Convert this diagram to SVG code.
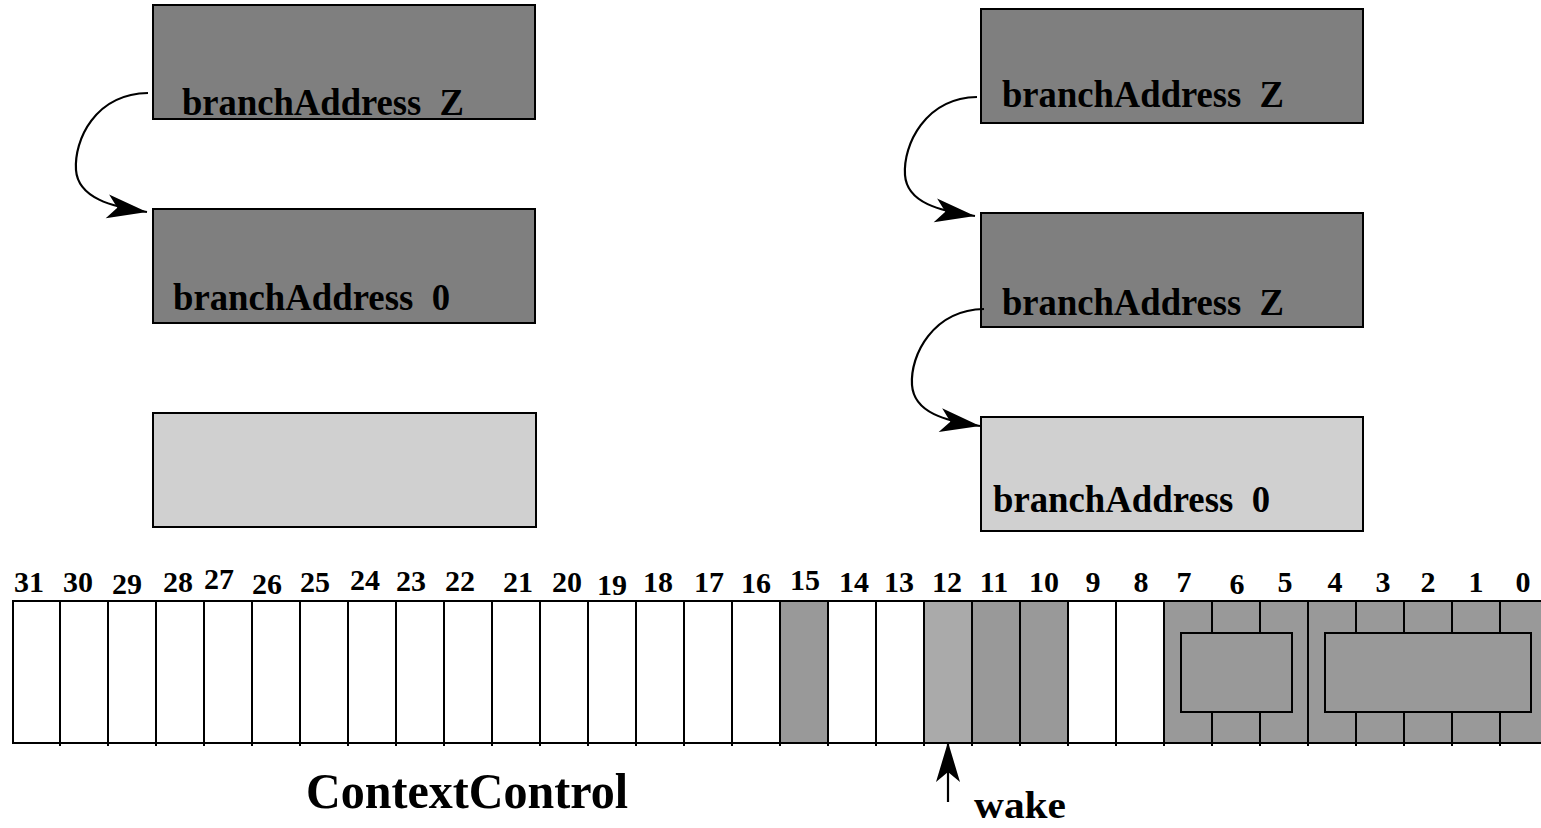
<svg xmlns="http://www.w3.org/2000/svg" width="1541" height="828" viewBox="0 0 1541 828">
  <style>
    .blk { stroke: #000; stroke-width: 2; }
    .dark { fill: #7f7f7f; }
    .light { fill: #d0d0d0; }
    .lbl { font-family: "Liberation Serif", "Times New Roman", serif; font-weight: bold; font-size: 38px; fill: #000; white-space: pre; }
    .bit { font-family: "Liberation Serif", "Times New Roman", serif; font-weight: bold; font-size: 30px; fill: #000; text-anchor: middle; }
    .reg { fill: #999999; }
    .regw { fill: #ffffff; }
    .wake { fill: #aaaaaa; }
    .cell { stroke: #000; stroke-width: 2; fill: none; }
    .conn { fill: none; stroke: #000; stroke-width: 2.2; marker-end: url(#head); }
    .title { font-family: "Liberation Serif", "Times New Roman", serif; font-weight: bold; fill: #000; }
  </style>
  <defs>
    <marker id="head" markerUnits="userSpaceOnUse" viewBox="-42 -14 44 28" markerWidth="44" markerHeight="28" refX="0" refY="0" orient="auto">
      <path d="M0,0 L-40,-12 L-30,0 L-40,12 Z" fill="#000"/>
    </marker>
  </defs>

  <rect width="1541" height="828" fill="#fff"/>

  <!-- left column: two-level branch -->
  <g id="left-z">
    <rect class="blk dark" x="153" y="5" width="382" height="114"/>
    <text class="lbl" x="182" y="115" textLength="282" lengthAdjust="spacingAndGlyphs">branchAddress  Z</text>
  </g>
  <g id="left-0">
    <rect class="blk dark" x="153" y="209" width="382" height="114"/>
    <text class="lbl" x="173" y="310" textLength="277" lengthAdjust="spacingAndGlyphs">branchAddress  0</text>
  </g>
  <g id="left-empty">
    <rect class="blk light" x="153" y="413" width="383" height="114"/>
  </g>

  <!-- right column: three-level branch -->
  <g id="right-z1">
    <rect class="blk dark" x="981" y="9" width="382" height="114"/>
    <text class="lbl" x="1002" y="107" textLength="282" lengthAdjust="spacingAndGlyphs">branchAddress  Z</text>
  </g>
  <g id="right-z2">
    <rect class="blk dark" x="981" y="213" width="382" height="114"/>
    <text class="lbl" x="1002" y="315" textLength="282" lengthAdjust="spacingAndGlyphs">branchAddress  Z</text>
  </g>
  <g id="right-0">
    <rect class="blk light" x="981" y="417" width="382" height="114"/>
    <text class="lbl" x="993" y="512" textLength="277" lengthAdjust="spacingAndGlyphs">branchAddress  0</text>
  </g>

  <!-- ContextControl register, 48px per bit -->
  <g id="register">
    <rect class="regw" x="12" y="601" width="768" height="142"/>
    <rect class="reg" x="780" y="601" width="48" height="142"/>
    <rect class="regw" x="828" y="601" width="96" height="142"/>
    <rect class="wake" x="924" y="601" width="48" height="142"/>
    <rect class="reg" x="972" y="601" width="96" height="142"/>
    <rect class="regw" x="1068" y="601" width="96" height="142"/>
    <rect class="reg" x="1164" y="601" width="384" height="142"/>
    <!-- outline -->
    <path class="cell" d="M12,601 H1548 M12,743 H1548 M13,601 V743"/>
    <!-- full-height bit dividers with ticks below -->
    <path class="cell" d="M60,601 V746 M108,601 V746 M156,601 V746 M204,601 V746 M252,601 V746 M300,601 V746 M348,601 V746 M396,601 V746 M444,601 V746 M492,601 V746 M540,601 V746 M588,601 V746 M636,601 V746 M684,601 V746 M732,601 V746 M780,601 V746 M828,601 V746 M876,601 V746 M924,601 V746 M972,601 V746 M1020,601 V746 M1068,601 V746 M1116,601 V746 M1164,601 V746 M1308,601 V746"/>
    <!-- dividers interrupted by the field boxes -->
    <path class="cell" d="M1212,601 V633 M1212,712 V746 M1260,601 V633 M1260,712 V746 M1356,601 V633 M1356,712 V746 M1404,601 V633 M1404,712 V746 M1452,601 V633 M1452,712 V746 M1500,601 V633 M1500,712 V746"/>
    <rect class="cell reg" x="1181" y="633" width="111" height="79"/>
    <rect class="cell reg" x="1325" y="633" width="206" height="79"/>
  </g>

  <g id="bit-numbers">
    <text class="bit" x="29" y="592">31</text>
    <text class="bit" x="78" y="592">30</text>
    <text class="bit" x="127" y="594">29</text>
    <text class="bit" x="178" y="592">28</text>
    <text class="bit" x="219" y="589">27</text>
    <text class="bit" x="267" y="594">26</text>
    <text class="bit" x="315" y="592">25</text>
    <text class="bit" x="365" y="590">24</text>
    <text class="bit" x="411" y="591">23</text>
    <text class="bit" x="460" y="591">22</text>
    <text class="bit" x="518" y="592">21</text>
    <text class="bit" x="567" y="592">20</text>
    <text class="bit" x="612" y="595">19</text>
    <text class="bit" x="658" y="592">18</text>
    <text class="bit" x="709" y="592">17</text>
    <text class="bit" x="756" y="593">16</text>
    <text class="bit" x="805" y="590">15</text>
    <text class="bit" x="854" y="592">14</text>
    <text class="bit" x="899" y="592">13</text>
    <text class="bit" x="947" y="592">12</text>
    <text class="bit" x="994" y="592">11</text>
    <text class="bit" x="1044" y="592">10</text>
    <text class="bit" x="1093" y="592">9</text>
    <text class="bit" x="1141" y="592">8</text>
    <text class="bit" x="1184" y="592">7</text>
    <text class="bit" x="1237" y="594">6</text>
    <text class="bit" x="1285" y="592">5</text>
    <text class="bit" x="1335" y="592">4</text>
    <text class="bit" x="1383" y="592">3</text>
    <text class="bit" x="1428" y="592">2</text>
    <text class="bit" x="1476" y="592">1</text>
    <text class="bit" x="1523" y="592">0</text>
  </g>

  <g id="register-name">
    <text class="title" x="306" y="808" font-size="50" textLength="322" lengthAdjust="spacingAndGlyphs">ContextControl</text>
  </g>
  <g id="wake-label">
    <text class="title" x="974" y="818" font-size="38" textLength="92" lengthAdjust="spacingAndGlyphs">wake</text>
  </g>

  <!-- connectors -->
  <g id="connectors">
    <path class="conn" d="M148,93 C95,94 74,140 76,170 C78,198 112,207 147,212"/>
    <path class="conn" d="M977,97 C925,98 903,145 905,175 C907,203 940,211 975,216"/>
    <path class="conn" d="M984,309 C933,310 910,355 912,385 C914,413 946,421 980,426"/>
    <path class="conn" d="M948,802 V742"/>
  </g>
</svg>
